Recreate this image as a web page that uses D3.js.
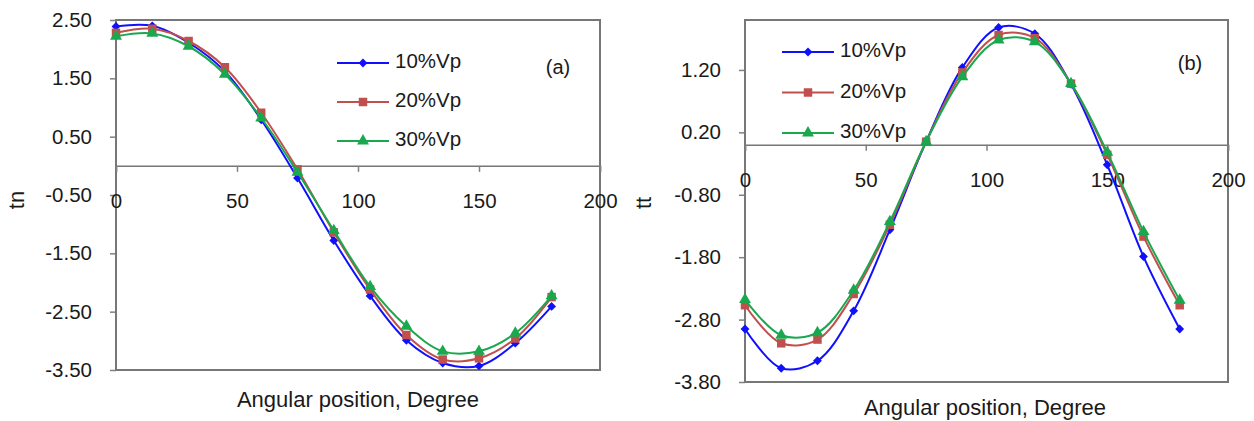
<!DOCTYPE html>
<html>
<head>
<meta charset="utf-8">
<script src="https://cdn.jsdelivr.net/npm/d3@7"></script>
<style>
  body { margin: 0; background: #fff; }
  svg { display: block; font-family: "Liberation Sans", Arial, sans-serif; }
  .tick text { font-size: 20.5px; fill: #1a1a1a; }
</style>
</head>
<body>
<svg id="chart" width="1254" height="421"></svg>
<script>
// shared x values (angular position, degrees)
const angles = [0, 15, 30, 45, 60, 75, 90, 105, 120, 135, 150, 165, 180];
const seriesNames = ["10%Vp", "20%Vp", "30%Vp"];
const colors = ["#1010ff", "#c0504d", "#1aa84f"];

// panel (a): tn
const tn10 = [2.39, 2.40, 2.11, 1.62, 0.79, -0.21, -1.28, -2.23, -2.99, -3.38, -3.43, -3.04, -2.41];
const tn20 = [2.28, 2.35, 2.14, 1.69, 0.91, -0.06, -1.14, -2.12, -2.90, -3.32, -3.30, -2.96, -2.25];
const tn30 = [2.22, 2.27, 2.05, 1.57, 0.82, -0.11, -1.11, -2.07, -2.75, -3.18, -3.18, -2.87, -2.23];
const tnTicks = [2.5, 1.5, 0.5, -0.5, -1.5, -2.5, -3.5];

// panel (b): tt
const tt10 = [-2.95, -3.58, -3.46, -2.66, -1.36, 0.05, 1.24, 1.88, 1.78, 0.97, -0.32, -1.79, -2.95];
const tt20 = [-2.57, -3.18, -3.12, -2.39, -1.28, 0.05, 1.16, 1.76, 1.71, 0.98, -0.16, -1.47, -2.57];
const tt30 = [-2.48, -3.05, -3.01, -2.33, -1.23, 0.05, 1.09, 1.68, 1.65, 0.98, -0.12, -1.39, -2.49];
const ttTicks = [1.2, 0.2, -0.8, -1.8, -2.8, -3.8];

const xTicks = [0, 50, 100, 150, 200];

const svg = d3.select("#chart");
const fmt = v => v.toFixed(2);

function drawPanel(p) {
  const x = d3.scaleLinear().domain([0, 200]).range([p.left, p.right]);
  const y = d3.scaleLinear().domain(p.yDomain).range([p.bottom, p.top]);
  const g = svg.append("g");

  // y axis on the left frame edge
  const yAxis = g.append("g")
    .attr("transform", `translate(${p.left},0)`)
    .call(d3.axisLeft(y).tickValues(p.yTicks).tickFormat(fmt).tickSize(6).tickPadding(18));
  yAxis.select(".domain").remove();
  yAxis.selectAll(".tick line").attr("stroke", "#808080").attr("stroke-width", 1.5);

  // frame
  g.append("rect")
    .attr("x", p.left).attr("y", p.top)
    .attr("width", p.right - p.left).attr("height", p.bottom - p.top)
    .attr("fill", "none").attr("stroke", "#777").attr("stroke-width", 2);

  // x axis along y = 0
  const xAxis = g.append("g")
    .attr("transform", `translate(0,${y(0)})`)
    .call(d3.axisBottom(x).tickValues(xTicks).tickFormat(d3.format("d")).tickSize(6).tickPadding(22));
  xAxis.select(".domain").attr("stroke", "#777").attr("stroke-width", 1.5);
  xAxis.selectAll(".tick line").attr("stroke", "#808080").attr("stroke-width", 1.5);

  // titles
  g.append("text")
    .attr("transform", `translate(${p.yTitleX},${p.yTitleY}) rotate(-90)`)
    .attr("text-anchor", "middle").attr("dominant-baseline", "middle")
    .style("font-size", "22px").attr("fill", "#1a1a1a")
    .text(p.yTitle);
  g.append("text")
    .attr("x", p.xTitleX).attr("y", p.xTitleY)
    .attr("text-anchor", "middle").attr("dominant-baseline", "middle")
    .style("font-size", "22px").attr("fill", "#1a1a1a")
    .text("Angular position, Degree");
  g.append("text")
    .attr("x", p.tagX).attr("y", p.tagY)
    .attr("text-anchor", "middle").attr("dominant-baseline", "middle")
    .style("font-size", "20px").attr("fill", "#1a1a1a")
    .text(p.tag);

  const line = d3.line()
    .x((d, i) => x(angles[i]))
    .y(d => y(d))
    .curve(d3.curveCatmullRom.alpha(0.5));

  p.series.forEach((vals, k) => {
    g.append("path")
      .datum(vals)
      .attr("d", line)
      .attr("fill", "none")
      .attr("stroke", colors[k])
      .attr("stroke-width", 2);
    g.append("g").selectAll("path")
      .data(vals)
      .join("path")
      .attr("transform", (d, i) => `translate(${x(angles[i])},${y(d)})`)
      .attr("d", markerPath(k))
      .attr("fill", colors[k]);
  });

  // legend
  const lg = g.append("g");
  seriesNames.forEach((name, k) => {
    const ly = p.legendY + k * p.legendGap;
    lg.append("line")
      .attr("x1", p.legendX).attr("x2", p.legendX + 52)
      .attr("y1", ly).attr("y2", ly)
      .attr("stroke", colors[k]).attr("stroke-width", 2);
    lg.append("path")
      .attr("transform", `translate(${p.legendX + 26},${ly})`)
      .attr("d", markerPath(k))
      .attr("fill", colors[k]);
    lg.append("text")
      .attr("x", p.legendX + 58).attr("y", ly)
      .attr("dominant-baseline", "middle")
      .style("font-size", "20.5px").attr("fill", "#1a1a1a")
      .text(name);
  });
}

function markerPath(k) {
  if (k === 0) return d3.symbol(d3.symbolDiamond2, 50)();
  if (k === 1) return d3.symbol(d3.symbolSquare, 72)();
  return d3.symbol(d3.symbolTriangle, 62)();
}

drawPanel({
  left: 116, right: 600, top: 20, bottom: 370,
  yDomain: [-3.5, 2.5], yTicks: tnTicks,
  series: [tn10, tn20, tn30],
  yTitle: "tn", yTitleX: 18, yTitleY: 200,
  xTitleX: 358, xTitleY: 401,
  tag: "(a)", tagX: 558, tagY: 69,
  legendX: 337, legendY: 63, legendGap: 39
});

drawPanel({
  left: 745, right: 1228, top: 20, bottom: 382,
  yDomain: [-3.8, 2.0], yTicks: ttTicks,
  series: [tt10, tt20, tt30],
  yTitle: "tt", yTitleX: 645, yTitleY: 203,
  xTitleX: 985, xTitleY: 409,
  tag: "(b)", tagX: 1190, tagY: 65,
  legendX: 782, legendY: 52, legendGap: 40.5
});
</script>
</body>
</html>
